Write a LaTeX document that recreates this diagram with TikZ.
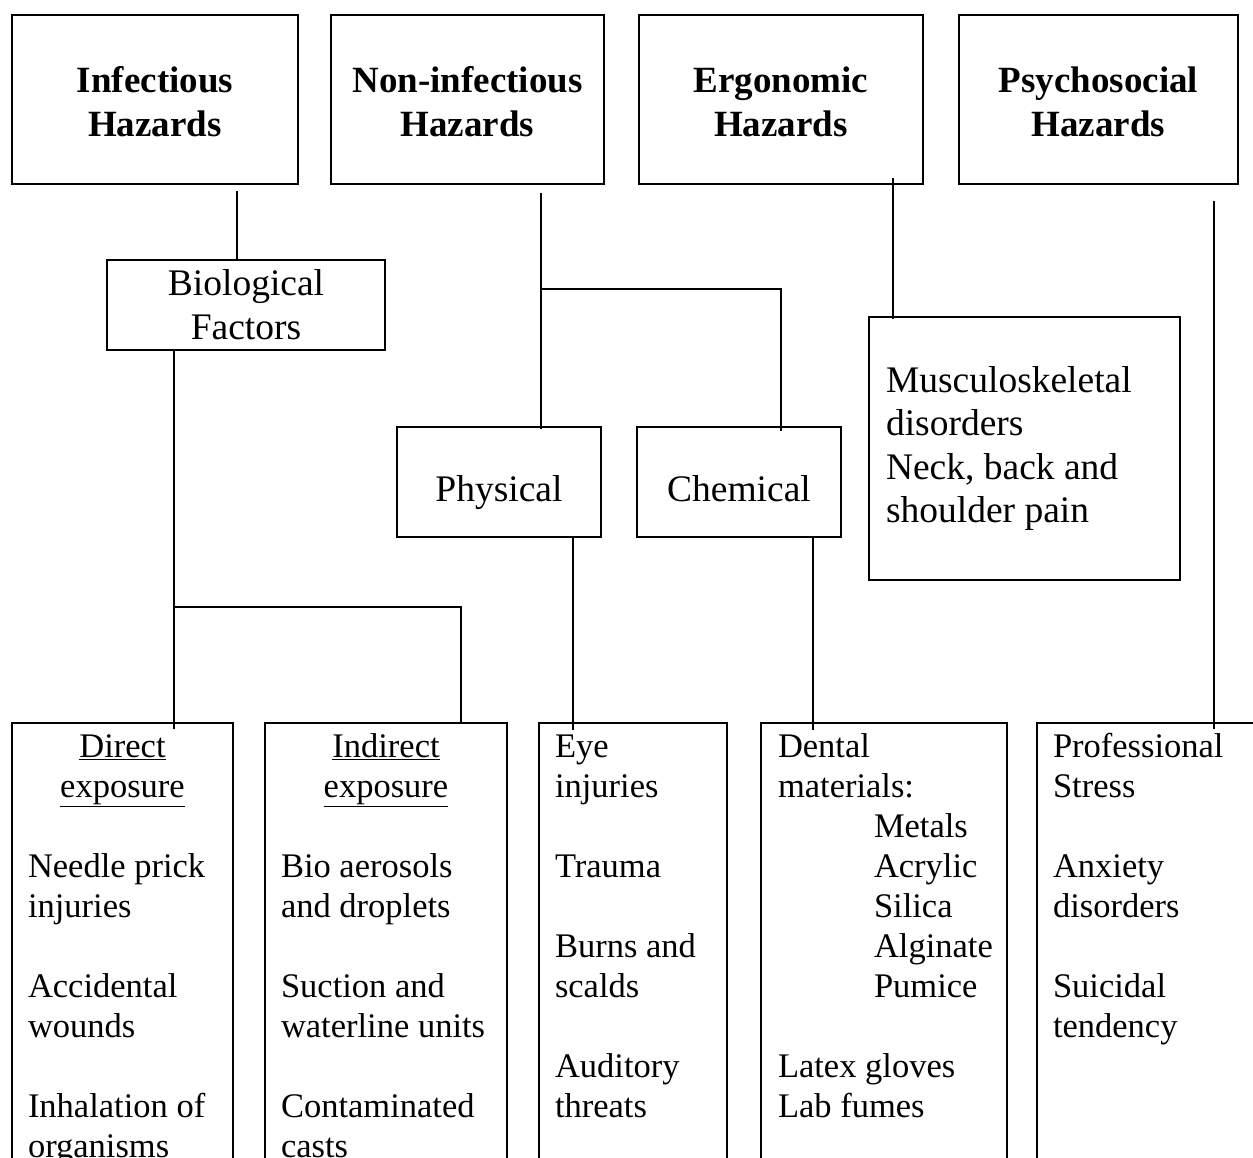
\documentclass[tikz,border=0pt]{standalone}
\usepackage{fontspec}
\setmainfont{Liberation Serif}
\usetikzlibrary{calc}
\begin{document}
\begin{tikzpicture}[x=1pt,y=-1pt,line width=1.6pt,
  topbox/.style={draw,minimum height=169pt,inner sep=0pt,align=center,font=\bfseries\fontsize{37}{44}\selectfont},
  midbox/.style={draw,inner sep=0pt,align=center,font=\fontsize{37.5}{44}\selectfont},
  colbox/.style={draw,minimum height=477pt,inner sep=0pt},
  coltext/.style={anchor=north west,inner sep=0pt,align=left,font=\fontsize{34.5}{40}\selectfont},
  colhead/.style={anchor=north,inner sep=0pt,align=center,font=\fontsize{34.5}{40}\selectfont},
  link/.style={draw,line width=1.6pt}]
\useasboundingbox (0,0) rectangle (1253,1158);
\clip (0,0) rectangle (1253,1158);
\fill[white] (0,0) rectangle (1253,1158);

% top row
\node[topbox,minimum width=286pt] (inf) at (155,99.5) {\rule{0pt}{31pt}Infectious\\Hazards};
\node[topbox,minimum width=273pt] (noninf) at (467.5,99.5) {\rule{0pt}{31pt}Non-infectious\\Hazards};
\node[topbox,minimum width=284pt] (ergo) at (781,99.5) {\rule{0pt}{31pt}Ergonomic\\Hazards};
\node[topbox,minimum width=279pt] (psych) at (1098.5,99.5) {\rule{0pt}{31pt}Psychosocial\\Hazards};

% middle row
\node[midbox,minimum width=278pt,minimum height=90pt] (bio) at (246,305) {Biological\\Factors};
\node[midbox,minimum width=204pt,minimum height=110pt,text height=38pt,text depth=0pt] (phys) at (499,482) {Physical};
\node[midbox,minimum width=204pt,minimum height=110pt,text height=38pt,text depth=0pt] (chem) at (739,482) {Chemical};
\node[draw,minimum width=311pt,minimum height=263pt,inner xsep=17pt,inner ysep=0pt,text width=277pt,align=flush left,font=\fontsize{37.5}{43.5}\selectfont] (musc) at (1024.5,448.5) {Musculoskeletal\\disorders\\Neck, back and\\shoulder pain};

% bottom columns
\node[colbox,minimum width=221pt] (direct) at (122.5,961.5) {};
\node[colbox,minimum width=242pt] (indirect) at (386,961.5) {};
\node[colbox,minimum width=188pt] (eye) at (633,961.5) {};
\node[colbox,minimum width=246pt] (dental) at (884,961.5) {};
\node[colbox,minimum width=233pt] (prof) at (1153.5,961.5) {};

\node[colhead] (directh) at ([yshift=-6pt]direct.north) {\strut\underline{Direct}\\\underline{exposure}};
\node[coltext] (directt) at ([xshift=16pt,yshift=-126pt]direct.north west) {\strut Needle prick\\injuries\\[40pt]Accidental\\wounds\\[40pt]Inhalation of\\organisms};

\node[colhead] (indirecth) at ([yshift=-6pt]indirect.north) {\strut\underline{Indirect}\\\underline{exposure}};
\node[coltext] (indirectt) at ([xshift=16pt,yshift=-126pt]indirect.north west) {\strut Bio aerosols\\and droplets\\[40pt]Suction and\\waterline units\\[40pt]Contaminated\\casts};

\node[coltext] (eyet) at ([xshift=16pt,yshift=-6pt]eye.north west) {\strut Eye\\injuries\\[40pt]Trauma\\[40pt]Burns and\\scalds\\[40pt]Auditory\\threats};

\node[coltext] (dentalt) at ([xshift=17pt,yshift=-6pt]dental.north west) {\strut Dental\\materials:\\\hspace*{96pt}Metals\\\hspace*{96pt}Acrylic\\\hspace*{96pt}Silica\\\hspace*{96pt}Alginate\\\hspace*{96pt}Pumice\\[40pt]Latex gloves\\Lab fumes};

\node[coltext] (proft) at ([xshift=16pt,yshift=-6pt]prof.north west) {\strut Professional\\Stress\\[40pt]Anxiety\\disorders\\[40pt]Suicidal\\tendency};

% connectors
\draw[link] ([xshift=82pt,yshift=-6pt]inf.south) -- ([xshift=-9pt]bio.north);

\coordinate (j1) at (174,607);
\draw[link] ([xshift=-72pt]bio.south) -- ([xshift=51.5pt,yshift=-7pt]direct.north);
\draw[link] (j1) -| ([xshift=75pt]indirect.north);

\coordinate (j2) at (541,289);
\draw[link] ([xshift=73.5pt,yshift=-8pt]noninf.south) -- ([xshift=42pt,yshift=-3pt]phys.north);
\draw[link] (j2) -| ([xshift=42pt,yshift=-5pt]chem.north);

\draw[link] ([xshift=74pt]phys.south) -- ([xshift=-60pt,yshift=-8pt]eye.north);
\draw[link] ([xshift=74pt]chem.south) -- ([xshift=-71pt,yshift=-8pt]dental.north);

\draw[link] ([xshift=112pt,yshift=7pt]ergo.south) -- ([xshift=-131.5pt,yshift=-3pt]musc.north);
\draw[link] ([xshift=115.5pt,yshift=-16pt]psych.south) -- ([xshift=60.5pt,yshift=-7pt]prof.north);
\end{tikzpicture}
\end{document}
